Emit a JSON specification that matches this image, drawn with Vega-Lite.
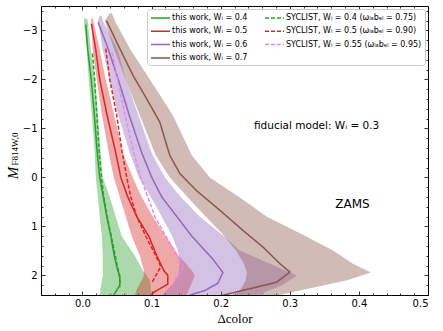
{
  "$schema": "https://vega.github.io/schema/vega-lite/v6.json",
  "width": 387,
  "height": 289,
  "autosize": "none",
  "padding": {"left": 41, "top": 6, "right": 15, "bottom": 36},
  "config": {
    "view": {"stroke": "#000", "strokeWidth": 1},
    "axis": {"domain": false, "grid": false, "labelFont": "DejaVu Sans", "labelFontSize": 10, "labelColor": "#000", "tickColor": "#000", "tickWidth": 0.8},
    "legend": {"orient": "top-right", "offset": 3, "columns": 2, "symbolType": "M-1,0H2.8", "symbolSize": 100, "symbolStrokeWidth": 1.5, "labelFont": "DejaVu Sans", "labelFontSize": 8, "labelColor": "#000", "labelOffset": 10, "rowPadding": 3.3, "columnPadding": 14, "padding": 3, "fillColor": "rgba(255,255,255,0.85)", "strokeColor": "#cccccc", "cornerRadius": 3, "labelLimit": 300}
  },
  "datasets": {
    "bands": [
      {"b": "0.4", "y": -3.25, "lo": 0.003, "hi": 0.006},
      {"b": "0.4", "y": -3.2, "lo": 0.0019, "hi": 0.0077},
      {"b": "0.4", "y": -2.6, "lo": 0.0062, "hi": 0.012},
      {"b": "0.4", "y": -2.0, "lo": 0.0091, "hi": 0.0178},
      {"b": "0.4", "y": -1.3, "lo": 0.0135, "hi": 0.0222},
      {"b": "0.4", "y": -0.5, "lo": 0.0178, "hi": 0.0265},
      {"b": "0.4", "y": 0, "lo": 0.0193, "hi": 0.0294},
      {"b": "0.4", "y": 0.4, "lo": 0.0222, "hi": 0.0395},
      {"b": "0.4", "y": 0.8, "lo": 0.025, "hi": 0.0482},
      {"b": "0.4", "y": 1.2, "lo": 0.028, "hi": 0.0569},
      {"b": "0.4", "y": 1.6, "lo": 0.0294, "hi": 0.0757},
      {"b": "0.4", "y": 1.9, "lo": 0.0294, "hi": 0.0873},
      {"b": "0.4", "y": 2.0, "lo": 0.0294, "hi": 0.0931},
      {"b": "0.4", "y": 2.1, "lo": 0.028, "hi": 0.0975},
      {"b": "0.4", "y": 2.4, "lo": 0.025, "hi": 0.1003},
      {"b": "0.5", "y": -3.25, "lo": 0.0125, "hi": 0.015},
      {"b": "0.5", "y": -2.6, "lo": 0.0149, "hi": 0.025},
      {"b": "0.5", "y": -2.0, "lo": 0.0207, "hi": 0.0337},
      {"b": "0.5", "y": -1.3, "lo": 0.0279, "hi": 0.0453},
      {"b": "0.5", "y": -0.5, "lo": 0.0381, "hi": 0.0584},
      {"b": "0.5", "y": 0, "lo": 0.0453, "hi": 0.0728},
      {"b": "0.5", "y": 0.4, "lo": 0.054, "hi": 0.0858},
      {"b": "0.5", "y": 0.8, "lo": 0.0627, "hi": 0.1018},
      {"b": "0.5", "y": 1.2, "lo": 0.0714, "hi": 0.1206},
      {"b": "0.5", "y": 1.6, "lo": 0.083, "hi": 0.1394},
      {"b": "0.5", "y": 1.9, "lo": 0.0888, "hi": 0.1583},
      {"b": "0.5", "y": 2.0, "lo": 0.0888, "hi": 0.1626},
      {"b": "0.5", "y": 2.1, "lo": 0.0859, "hi": 0.1597},
      {"b": "0.5", "y": 2.24, "lo": 0.0801, "hi": 0.1554},
      {"b": "0.5", "y": 2.4, "lo": 0.0757, "hi": 0.1511},
      {"b": "0.6", "y": -3.3, "lo": 0.025, "hi": 0.028},
      {"b": "0.6", "y": -3.2, "lo": 0.0222, "hi": 0.0294},
      {"b": "0.6", "y": -2.6, "lo": 0.0294, "hi": 0.0511},
      {"b": "0.6", "y": -2.0, "lo": 0.0395, "hi": 0.0627},
      {"b": "0.6", "y": -1.3, "lo": 0.0511, "hi": 0.0801},
      {"b": "0.6", "y": -0.5, "lo": 0.0685, "hi": 0.1003},
      {"b": "0.6", "y": 0, "lo": 0.0815, "hi": 0.1192},
      {"b": "0.6", "y": 0.4, "lo": 0.0989, "hi": 0.1423},
      {"b": "0.6", "y": 0.8, "lo": 0.1148, "hi": 0.1698},
      {"b": "0.6", "y": 1.2, "lo": 0.13, "hi": 0.2046},
      {"b": "0.6", "y": 1.49, "lo": 0.138, "hi": 0.2278},
      {"b": "0.6", "y": 1.69, "lo": 0.1409, "hi": 0.2597},
      {"b": "0.6", "y": 2.0, "lo": 0.139, "hi": 0.3103},
      {"b": "0.6", "y": 2.2, "lo": 0.1293, "hi": 0.2887},
      {"b": "0.6", "y": 2.4, "lo": 0.1148, "hi": 0.2539},
      {"b": "0.7", "y": -3.35, "lo": 0.0395, "hi": 0.0425},
      {"b": "0.7", "y": -3.2, "lo": 0.0323, "hi": 0.0468},
      {"b": "0.7", "y": -2.63, "lo": 0.0453, "hi": 0.0685},
      {"b": "0.7", "y": -1.94, "lo": 0.0641, "hi": 0.1003},
      {"b": "0.7", "y": -1.27, "lo": 0.083, "hi": 0.1308},
      {"b": "0.7", "y": -0.45, "lo": 0.1061, "hi": 0.1583},
      {"b": "0.7", "y": 0, "lo": 0.1264, "hi": 0.1843},
      {"b": "0.7", "y": 0.41, "lo": 0.1525, "hi": 0.2278},
      {"b": "0.7", "y": 0.8, "lo": 0.1785, "hi": 0.2669},
      {"b": "0.7", "y": 1.14, "lo": 0.2017, "hi": 0.3147},
      {"b": "0.7", "y": 1.49, "lo": 0.222, "hi": 0.3624},
      {"b": "0.7", "y": 1.76, "lo": 0.2336, "hi": 0.3914},
      {"b": "0.7", "y": 1.94, "lo": 0.2379, "hi": 0.4175},
      {"b": "0.7", "y": 2.1, "lo": 0.2364, "hi": 0.3827},
      {"b": "0.7", "y": 2.31, "lo": 0.2278, "hi": 0.3147},
      {"b": "0.7", "y": 2.4, "lo": 0.222, "hi": 0.2857}
    ],
    "lines": [
      {"s": "this work, Wᵢ = 0.4", "y": -3.12, "x": 0.0048},
      {"s": "this work, Wᵢ = 0.4", "y": -2.6, "x": 0.0077},
      {"s": "this work, Wᵢ = 0.4", "y": -2.0, "x": 0.0127},
      {"s": "this work, Wᵢ = 0.4", "y": -1.3, "x": 0.0171},
      {"s": "this work, Wᵢ = 0.4", "y": -0.5, "x": 0.0214},
      {"s": "this work, Wᵢ = 0.4", "y": 0, "x": 0.025},
      {"s": "this work, Wᵢ = 0.4", "y": 0.4, "x": 0.0301},
      {"s": "this work, Wᵢ = 0.4", "y": 0.8, "x": 0.0352},
      {"s": "this work, Wᵢ = 0.4", "y": 1.2, "x": 0.041},
      {"s": "this work, Wᵢ = 0.4", "y": 1.6, "x": 0.046},
      {"s": "this work, Wᵢ = 0.4", "y": 1.9, "x": 0.0511},
      {"s": "this work, Wᵢ = 0.4", "y": 2.0, "x": 0.054},
      {"s": "this work, Wᵢ = 0.4", "y": 2.2, "x": 0.054},
      {"s": "this work, Wᵢ = 0.4", "y": 2.4, "x": 0.0453},
      {"s": "SYCLIST, Wᵢ = 0.4 (ωₗₐbₑₗ = 0.75)", "y": -2.53, "x": 0.0145},
      {"s": "SYCLIST, Wᵢ = 0.4 (ωₗₐbₑₗ = 0.75)", "y": -1.98, "x": 0.0178},
      {"s": "SYCLIST, Wᵢ = 0.4 (ωₗₐbₑₗ = 0.75)", "y": -1.3, "x": 0.0207},
      {"s": "SYCLIST, Wᵢ = 0.4 (ωₗₐbₑₗ = 0.75)", "y": -0.5, "x": 0.0243},
      {"s": "SYCLIST, Wᵢ = 0.4 (ωₗₐbₑₗ = 0.75)", "y": 0, "x": 0.0275},
      {"s": "SYCLIST, Wᵢ = 0.4 (ωₗₐbₑₗ = 0.75)", "y": 0.4, "x": 0.0308},
      {"s": "SYCLIST, Wᵢ = 0.4 (ωₗₐbₑₗ = 0.75)", "y": 0.8, "x": 0.0359},
      {"s": "SYCLIST, Wᵢ = 0.4 (ωₗₐbₑₗ = 0.75)", "y": 1.2, "x": 0.0417},
      {"s": "SYCLIST, Wᵢ = 0.4 (ωₗₐbₑₗ = 0.75)", "y": 1.6, "x": 0.0475},
      {"s": "SYCLIST, Wᵢ = 0.4 (ωₗₐbₑₗ = 0.75)", "y": 1.9, "x": 0.0518},
      {"s": "SYCLIST, Wᵢ = 0.4 (ωₗₐbₑₗ = 0.75)", "y": 2.06, "x": 0.054},
      {"s": "SYCLIST, Wᵢ = 0.4 (ωₗₐbₑₗ = 0.75)", "y": 2.24, "x": 0.054},
      {"s": "this work, Wᵢ = 0.5", "y": -3.14, "x": 0.013},
      {"s": "this work, Wᵢ = 0.5", "y": -2.6, "x": 0.0193},
      {"s": "this work, Wᵢ = 0.5", "y": -2.0, "x": 0.025},
      {"s": "this work, Wᵢ = 0.5", "y": -1.3, "x": 0.0352},
      {"s": "this work, Wᵢ = 0.5", "y": -0.5, "x": 0.0482},
      {"s": "this work, Wᵢ = 0.5", "y": 0, "x": 0.0555},
      {"s": "this work, Wᵢ = 0.5", "y": 0.4, "x": 0.0656},
      {"s": "this work, Wᵢ = 0.5", "y": 0.8, "x": 0.0786},
      {"s": "this work, Wᵢ = 0.5", "y": 1.2, "x": 0.096},
      {"s": "this work, Wᵢ = 0.5", "y": 1.6, "x": 0.1076},
      {"s": "this work, Wᵢ = 0.5", "y": 1.9, "x": 0.1177},
      {"s": "this work, Wᵢ = 0.5", "y": 2.0, "x": 0.1235},
      {"s": "this work, Wᵢ = 0.5", "y": 2.18, "x": 0.1235},
      {"s": "this work, Wᵢ = 0.5", "y": 2.33, "x": 0.1047},
      {"s": "this work, Wᵢ = 0.5", "y": 2.4, "x": 0.099},
      {"s": "SYCLIST, Wᵢ = 0.5 (ωₗₐbₑₗ = 0.90)", "y": -2.63, "x": 0.0337},
      {"s": "SYCLIST, Wᵢ = 0.5 (ωₗₐbₑₗ = 0.90)", "y": -2.0, "x": 0.0395},
      {"s": "SYCLIST, Wᵢ = 0.5 (ωₗₐbₑₗ = 0.90)", "y": -1.3, "x": 0.0492},
      {"s": "SYCLIST, Wᵢ = 0.5 (ωₗₐbₑₗ = 0.90)", "y": -0.5, "x": 0.0576},
      {"s": "SYCLIST, Wᵢ = 0.5 (ωₗₐbₑₗ = 0.90)", "y": 0, "x": 0.0641},
      {"s": "SYCLIST, Wᵢ = 0.5 (ωₗₐbₑₗ = 0.90)", "y": 0.4, "x": 0.0699},
      {"s": "SYCLIST, Wᵢ = 0.5 (ωₗₐbₑₗ = 0.90)", "y": 0.8, "x": 0.0786},
      {"s": "SYCLIST, Wᵢ = 0.5 (ωₗₐbₑₗ = 0.90)", "y": 1.2, "x": 0.0917},
      {"s": "SYCLIST, Wᵢ = 0.5 (ωₗₐbₑₗ = 0.90)", "y": 1.6, "x": 0.1061},
      {"s": "SYCLIST, Wᵢ = 0.5 (ωₗₐbₑₗ = 0.90)", "y": 1.82, "x": 0.1134},
      {"s": "SYCLIST, Wᵢ = 0.5 (ωₗₐbₑₗ = 0.90)", "y": 2.16, "x": 0.0999},
      {"s": "this work, Wᵢ = 0.6", "y": -3.17, "x": 0.0226},
      {"s": "this work, Wᵢ = 0.6", "y": -2.63, "x": 0.0371},
      {"s": "this work, Wᵢ = 0.6", "y": -2.0, "x": 0.0518},
      {"s": "this work, Wᵢ = 0.6", "y": -1.3, "x": 0.067},
      {"s": "this work, Wᵢ = 0.6", "y": -0.5, "x": 0.0859},
      {"s": "this work, Wᵢ = 0.6", "y": 0, "x": 0.1003},
      {"s": "this work, Wᵢ = 0.6", "y": 0.4, "x": 0.1148},
      {"s": "this work, Wᵢ = 0.6", "y": 0.8, "x": 0.1366},
      {"s": "this work, Wᵢ = 0.6", "y": 1.2, "x": 0.1583},
      {"s": "this work, Wᵢ = 0.6", "y": 1.49, "x": 0.1771},
      {"s": "this work, Wᵢ = 0.6", "y": 1.67, "x": 0.1887},
      {"s": "this work, Wᵢ = 0.6", "y": 1.94, "x": 0.2032},
      {"s": "this work, Wᵢ = 0.6", "y": 2.16, "x": 0.1959},
      {"s": "this work, Wᵢ = 0.6", "y": 2.31, "x": 0.1771},
      {"s": "this work, Wᵢ = 0.6", "y": 2.4, "x": 0.1554},
      {"s": "SYCLIST, Wᵢ = 0.55 (ωₗₐbₑₗ = 0.95)", "y": -2.55, "x": 0.0429},
      {"s": "SYCLIST, Wᵢ = 0.55 (ωₗₐbₑₗ = 0.95)", "y": -1.98, "x": 0.0511},
      {"s": "SYCLIST, Wᵢ = 0.55 (ωₗₐbₑₗ = 0.95)", "y": -1.3, "x": 0.0613},
      {"s": "SYCLIST, Wᵢ = 0.55 (ωₗₐbₑₗ = 0.95)", "y": -0.5, "x": 0.0743},
      {"s": "SYCLIST, Wᵢ = 0.55 (ωₗₐbₑₗ = 0.95)", "y": 0, "x": 0.0844},
      {"s": "SYCLIST, Wᵢ = 0.55 (ωₗₐbₑₗ = 0.95)", "y": 0.4, "x": 0.0946},
      {"s": "SYCLIST, Wᵢ = 0.55 (ωₗₐbₑₗ = 0.95)", "y": 0.8, "x": 0.1047},
      {"s": "SYCLIST, Wᵢ = 0.55 (ωₗₐbₑₗ = 0.95)", "y": 1.2, "x": 0.1206},
      {"s": "SYCLIST, Wᵢ = 0.55 (ωₗₐbₑₗ = 0.95)", "y": 1.6, "x": 0.1365},
      {"s": "SYCLIST, Wᵢ = 0.55 (ωₗₐbₑₗ = 0.95)", "y": 1.82, "x": 0.1467},
      {"s": "SYCLIST, Wᵢ = 0.55 (ωₗₐbₑₗ = 0.95)", "y": 2.16, "x": 0.1308},
      {"s": "this work, Wᵢ = 0.7", "y": -3.2, "x": 0.0348},
      {"s": "this work, Wᵢ = 0.7", "y": -2.63, "x": 0.054},
      {"s": "this work, Wᵢ = 0.7", "y": -2.08, "x": 0.0733},
      {"s": "this work, Wᵢ = 0.7", "y": -1.61, "x": 0.0927},
      {"s": "this work, Wᵢ = 0.7", "y": -1.13, "x": 0.1119},
      {"s": "this work, Wᵢ = 0.7", "y": -0.45, "x": 0.1264},
      {"s": "this work, Wᵢ = 0.7", "y": -0.08, "x": 0.1409},
      {"s": "this work, Wᵢ = 0.7", "y": 0.27, "x": 0.1651},
      {"s": "this work, Wᵢ = 0.7", "y": 0.67, "x": 0.1988},
      {"s": "this work, Wᵢ = 0.7", "y": 1.08, "x": 0.2321},
      {"s": "this work, Wᵢ = 0.7", "y": 1.42, "x": 0.2611},
      {"s": "this work, Wᵢ = 0.7", "y": 1.76, "x": 0.2857},
      {"s": "this work, Wᵢ = 0.7", "y": 1.93, "x": 0.3002},
      {"s": "this work, Wᵢ = 0.7", "y": 2.14, "x": 0.2809},
      {"s": "this work, Wᵢ = 0.7", "y": 2.37, "x": 0.2133},
      {"s": "this work, Wᵢ = 0.7", "y": 2.45, "x": 0.19}
    ],
    "notes": [
      {"t": "fiducial model: Wᵢ = 0.3", "x": 0.3388, "y": -1.06},
      {"t": "ZAMS", "x": 0.3907, "y": 0.55}
    ]
  },
  "resolve": {"axis": {"x": "independent", "y": "independent"}},
  "layer": [
    {
      "data": {"name": "bands"},
      "mark": {"type": "area", "orient": "horizontal", "fillOpacity": 0.4, "strokeWidth": 0, "clip": true},
      "encoding": {
        "y": {"field": "y", "type": "quantitative", "scale": {"domain": [-3.5, 2.4], "reverse": true, "nice": false, "zero": false},
          "axis": {"orient": "left", "values": [-3.4,-3.2,-3,-2.8,-2.6,-2.4,-2.2,-2,-1.8,-1.6,-1.4,-1.2,-1,-0.8,-0.6,-0.4,-0.2,0,0.2,0.4,0.6,0.8,1,1.2,1.4,1.6,1.8,2,2.2,2.4],
            "labelExpr": "abs(datum.value - round(datum.value)) < 0.001 ? replace(format(round(datum.value), 'd'), '-', '\u2212') : ''",
            "tickSize": {"condition": {"test": "abs(datum.value - round(datum.value)) < 0.001", "value": -4}, "value": -2},
            "labelPadding": 8,
            "title": "M", "titleFont": "Liberation Serif", "titleFontStyle": "italic", "titleFontWeight": "normal", "titleFontSize": 15, "titleColor": "#000",
            "titleX": -29, "titleY": 166.5, "titleAlign": "center", "titleBaseline": "middle", "titleAngle": 270}},
        "x": {"field": "lo", "type": "quantitative", "scale": {"domain": [-0.06, 0.5], "nice": false, "zero": false},
          "axis": {"orient": "bottom", "values": [-0.06,-0.04,-0.02,0,0.02,0.04,0.06,0.08,0.1,0.12,0.14,0.16,0.18,0.2,0.22,0.24,0.26,0.28,0.3,0.32,0.34,0.36,0.38,0.4,0.42,0.44,0.46,0.48,0.5],
            "labelExpr": "abs(datum.value*10 - round(datum.value*10)) < 0.001 ? format(datum.value, '.1f') : ''",
            "tickSize": {"condition": {"test": "abs(datum.value*10 - round(datum.value*10)) < 0.001", "value": -4}, "value": -2},
            "labelPadding": 7,
            "title": "Δcolor", "titleFont": "Liberation Serif", "titleFontWeight": "normal", "titleFontSize": 13, "titleColor": "#000", "titlePadding": 4}},
        "x2": {"field": "hi"},
        "fill": {"field": "b", "type": "nominal", "scale": {"domain": ["0.4", "0.5", "0.6", "0.7"], "range": ["#2ca02c", "#d62728", "#9467bd", "#8c564b"]}, "legend": null}
      }
    },
    {
      "data": {"name": "lines"},
      "mark": {"type": "line", "strokeWidth": 1.5, "clip": true},
      "encoding": {
        "x": {"field": "x", "type": "quantitative",
          "axis": {"orient": "top", "values": [-0.06,-0.04,-0.02,0,0.02,0.04,0.06,0.08,0.1,0.12,0.14,0.16,0.18,0.2,0.22,0.24,0.26,0.28,0.3,0.32,0.34,0.36,0.38,0.4,0.42,0.44,0.46,0.48,0.5],
            "labels": false, "title": null,
            "tickSize": {"condition": {"test": "abs(datum.value*10 - round(datum.value*10)) < 0.001", "value": -4}, "value": -2}}},
        "y": {"field": "y", "type": "quantitative",
          "axis": {"orient": "right", "values": [-3.4,-3.2,-3,-2.8,-2.6,-2.4,-2.2,-2,-1.8,-1.6,-1.4,-1.2,-1,-0.8,-0.6,-0.4,-0.2,0,0.2,0.4,0.6,0.8,1,1.2,1.4,1.6,1.8,2,2.2,2.4],
            "labels": false,
            "tickSize": {"condition": {"test": "abs(datum.value - round(datum.value)) < 0.001", "value": -4}, "value": -2},
            "title": "F814W,0", "titleFont": "Liberation Serif", "titleFontWeight": "normal", "titleFontSize": 9, "titleColor": "#000",
            "titleX": -413.5, "titleY": 142.5, "titleAlign": "center", "titleBaseline": "middle", "titleAngle": 270}},
        "order": {"field": "y", "type": "quantitative"},
        "color": {"field": "s", "type": "nominal", "title": null,
          "scale": {"domain": ["this work, Wᵢ = 0.4", "this work, Wᵢ = 0.5", "this work, Wᵢ = 0.6", "this work, Wᵢ = 0.7", "SYCLIST, Wᵢ = 0.4 (ωₗₐbₑₗ = 0.75)", "SYCLIST, Wᵢ = 0.5 (ωₗₐbₑₗ = 0.90)", "SYCLIST, Wᵢ = 0.55 (ωₗₐbₑₗ = 0.95)"],
            "range": ["#2ca02c", "#d62728", "#9467bd", "#8c564b", "#2ca02c", "#e8201f", "#ee82ee"]}},
        "strokeDash": {"field": "s", "type": "nominal", "title": null,
          "scale": {"domain": ["this work, Wᵢ = 0.4", "this work, Wᵢ = 0.5", "this work, Wᵢ = 0.6", "this work, Wᵢ = 0.7", "SYCLIST, Wᵢ = 0.4 (ωₗₐbₑₗ = 0.75)", "SYCLIST, Wᵢ = 0.5 (ωₗₐbₑₗ = 0.90)", "SYCLIST, Wᵢ = 0.55 (ωₗₐbₑₗ = 0.95)"],
            "range": [[1, 0], [1, 0], [1, 0], [1, 0], [4, 2], [4, 2], [4, 2]]}}
      }
    },
    {
      "data": {"name": "notes"},
      "transform": [{"filter": "datum.t != 'ZAMS'"}],
      "mark": {"type": "text", "font": "DejaVu Sans", "fontSize": 10.5, "align": "center", "baseline": "middle", "color": "#000"},
      "encoding": {
        "x": {"field": "x", "type": "quantitative", "axis": null},
        "y": {"field": "y", "type": "quantitative", "axis": null},
        "text": {"field": "t"}
      }
    },
    {
      "data": {"name": "notes"},
      "transform": [{"filter": "datum.t == 'ZAMS'"}],
      "mark": {"type": "text", "font": "DejaVu Sans", "fontSize": 12, "align": "center", "baseline": "middle", "color": "#000"},
      "encoding": {
        "x": {"field": "x", "type": "quantitative", "axis": null},
        "y": {"field": "y", "type": "quantitative", "axis": null},
        "text": {"field": "t"}
      }
    }
  ]
}
